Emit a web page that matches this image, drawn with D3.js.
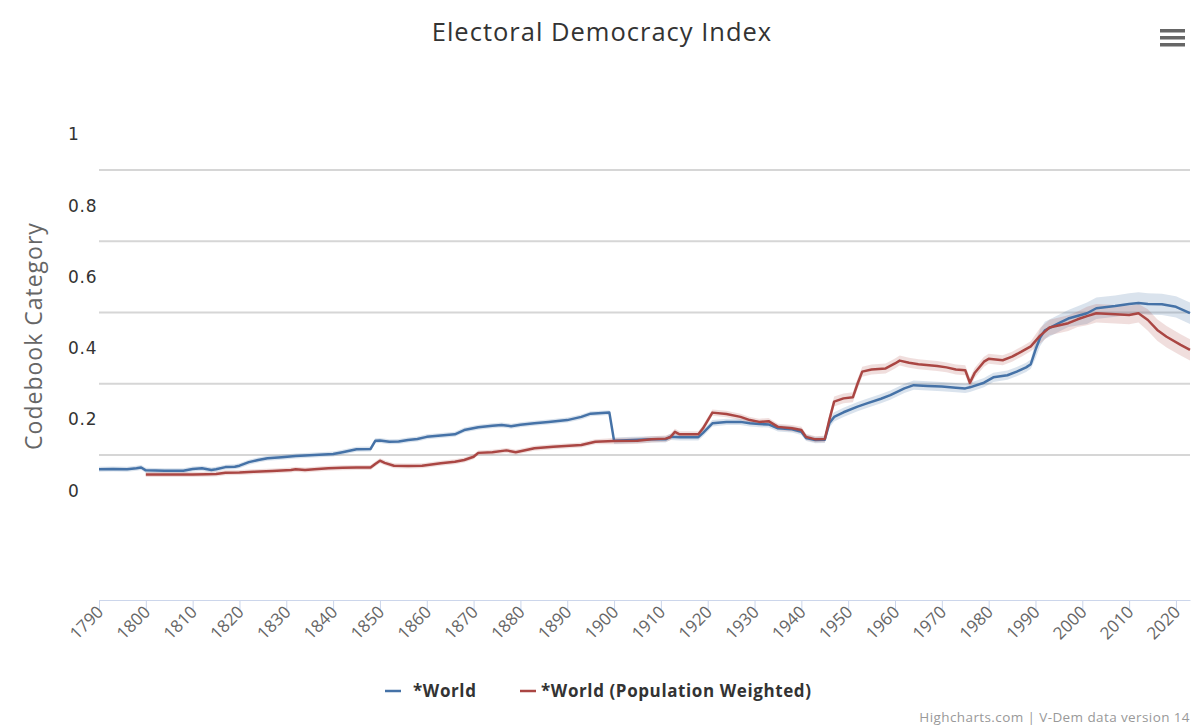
<!DOCTYPE html>
<html><head><meta charset="utf-8">
<script src="https://cdn.jsdelivr.net/npm/d3@7"></script>
<style>
html,body{margin:0;padding:0;background:#fff;}
svg{display:block;font-family:"Open Sans","Noto Sans",sans-serif;}
</style></head>
<body><svg id="c" width="1195" height="725"></svg>
<script>
// ---- data ----
const seriesNames = ["*World", "*World (Population Weighted)"];
const yTickLabels = [0, 0.2, 0.4, 0.6, 0.8, 1];
const gridValues = [0.1, 0.3, 0.5, 0.7, 0.9];
const xTickYears = [1790,1800,1810,1820,1830,1840,1850,1860,1870,1880,1890,1900,1910,1920,1930,1940,1950,1960,1970,1980,1990,2000,2010,2020];

const world = [[1790,0.060],[1793,0.061],[1796,0.060],[1798,0.063],[1799,0.065],[1800,0.057],[1804,0.056],[1808,0.056],[1810,0.061],[1812,0.063],[1814,0.058],[1815,0.060],[1817,0.066],[1819,0.067],[1820,0.070],[1822,0.080],[1824,0.086],[1826,0.091],[1829,0.094],[1832,0.097],[1836,0.100],[1840,0.103],[1842,0.108],[1845,0.116],[1848,0.117],[1849,0.140],[1850,0.141],[1852,0.137],[1854,0.138],[1856,0.142],[1858,0.145],[1860,0.151],[1863,0.155],[1866,0.158],[1868,0.170],[1871,0.178],[1874,0.182],[1876,0.184],[1878,0.181],[1880,0.185],[1883,0.189],[1886,0.193],[1890,0.198],[1893,0.207],[1895,0.216],[1899,0.219],[1900,0.140],[1904,0.142],[1908,0.144],[1911,0.144],[1912,0.151],[1914,0.150],[1918,0.150],[1919,0.162],[1921,0.189],[1924,0.193],[1927,0.193],[1929,0.189],[1931,0.187],[1933,0.186],[1935,0.175],[1938,0.172],[1940,0.165],[1941,0.148],[1943,0.142],[1945,0.143],[1946,0.190],[1947,0.207],[1949,0.220],[1952,0.236],[1954,0.245],[1957,0.258],[1959,0.268],[1962,0.287],[1964,0.296],[1967,0.294],[1970,0.292],[1973,0.289],[1975,0.287],[1976,0.290],[1979,0.303],[1981,0.318],[1984,0.324],[1986,0.334],[1988,0.346],[1989,0.355],[1990,0.395],[1991,0.430],[1992,0.450],[1995,0.470],[1997,0.483],[2001,0.498],[2003,0.512],[2007,0.518],[2010,0.524],[2012,0.527],[2014,0.524],[2017,0.523],[2020,0.516],[2023,0.498]];

const worldPop = [[1800,0.045],[1805,0.045],[1810,0.045],[1813,0.046],[1815,0.047],[1817,0.050],[1820,0.051],[1823,0.053],[1827,0.055],[1831,0.058],[1832,0.060],[1834,0.058],[1836,0.060],[1839,0.063],[1842,0.064],[1845,0.065],[1848,0.065],[1849,0.075],[1850,0.084],[1851,0.078],[1853,0.070],[1856,0.069],[1859,0.070],[1863,0.077],[1866,0.081],[1868,0.086],[1870,0.095],[1871,0.106],[1874,0.108],[1877,0.113],[1879,0.108],[1883,0.119],[1887,0.123],[1893,0.128],[1896,0.137],[1900,0.139],[1905,0.140],[1908,0.144],[1911,0.146],[1912,0.150],[1913,0.165],[1914,0.158],[1918,0.158],[1919,0.175],[1921,0.219],[1924,0.215],[1927,0.207],[1929,0.198],[1931,0.193],[1933,0.195],[1935,0.179],[1938,0.175],[1940,0.170],[1941,0.151],[1943,0.144],[1945,0.145],[1946,0.200],[1947,0.250],[1949,0.259],[1951,0.262],[1952,0.300],[1953,0.334],[1955,0.340],[1958,0.343],[1960,0.357],[1961,0.365],[1963,0.359],[1965,0.355],[1969,0.350],[1971,0.346],[1973,0.340],[1975,0.338],[1976,0.303],[1977,0.330],[1979,0.362],[1980,0.370],[1983,0.366],[1985,0.376],[1987,0.390],[1989,0.405],[1991,0.435],[1993,0.458],[1997,0.470],[1999,0.481],[2001,0.490],[2003,0.498],[2007,0.495],[2010,0.493],[2012,0.498],[2014,0.479],[2016,0.451],[2018,0.432],[2021,0.409],[2023,0.395]];

// uncertainty half-widths by era [fromYear, halfWidth]
const worldCI = [[1790,0.007],[1900,0.009],[1946,0.013],[1990,0.024],[2000,0.03]];
const worldPopCI = [[1800,0.007],[1900,0.009],[1946,0.014],[1990,0.022],[2000,0.026],[2014,0.03]];

const colors = ["#4572A7", "#AA4643"];
const bandColors = ["rgba(69,114,167,0.2)", "rgba(170,70,67,0.18)"];

// ---- layout ----
const svg = d3.select("#c");
const x = d3.scaleLinear().domain([1790, 2023]).range([99, 1190]);
const y = d3.scaleLinear().domain([-0.307, 1]).range([600, 134.4]);

function ci(table, yr){ let h = table[0][1]; for (const r of table){ if (yr >= r[0]) h = r[1]; } return h; }

// title
svg.append("text").attr("x", 602).attr("y", 41).attr("text-anchor","middle")
  .attr("font-size", 25.5).attr("letter-spacing", 1).attr("fill","#333").text("Electoral Democracy Index");

// hamburger
svg.append("g").selectAll("rect").data([0,1,2]).join("rect")
  .attr("x",1160).attr("y",d=>29+d*7).attr("width",25).attr("height",3.5).attr("fill","#666");

// gridlines
svg.append("g").selectAll("line").data(gridValues).join("line")
  .attr("x1",99).attr("x2",1190).attr("y1",d=>y(d)).attr("y2",d=>y(d))
  .attr("stroke","#d6d6d6").attr("stroke-width",2);

// y labels
svg.append("g").selectAll("text").data(yTickLabels).join("text")
  .attr("x",68).attr("y",d=>y(d)+6).attr("font-size",17).attr("letter-spacing",0.8)
  .attr("font-family","'DejaVu Sans',sans-serif").attr("fill","#333")
  .text(d=>d3.format("")(d));

// y title
svg.append("text").attr("transform","translate(42,336) rotate(-90)").attr("text-anchor","middle")
  .attr("font-size",23).attr("letter-spacing",1).attr("fill","#666").text("Codebook Category");

// x axis
const xAxis = d3.axisBottom(x).tickValues(xTickYears).tickFormat(d3.format("d")).tickSize(10).tickSizeOuter(0);
const gx = svg.append("g").attr("transform","translate(0,600)").call(xAxis);
gx.select(".domain").attr("stroke","#ccd6eb").attr("stroke-width",1);
gx.selectAll(".tick line").attr("stroke","#ccd6eb");
gx.selectAll(".tick text").attr("fill","#666").attr("font-size",17)
  .attr("font-family","'Open Sans',sans-serif")
  .attr("text-anchor","end").attr("dy",null).attr("y",0)
  .attr("transform","translate(5,13) rotate(-45)");

// bands + lines
const plot = svg.append("g");
[[world, worldCI],[worldPop, worldPopCI]].forEach(([data, table], i) => {
  const area = d3.area().x(d=>x(d[0])).y0(d=>y(d[1]-ci(table,d[0]))).y1(d=>y(d[1]+ci(table,d[0])));
  plot.append("path").datum(data).attr("d", area).attr("fill", bandColors[i]);
});
[world, worldPop].forEach((data, i) => {
  const line = d3.line().x(d=>x(d[0])).y(d=>y(d[1]));
  plot.append("path").datum(data).attr("d", line).attr("fill","none")
    .attr("stroke", colors[i]).attr("stroke-width", 2.5).attr("stroke-linejoin","round");
});

// legend
const legend = svg.append("g").attr("font-size",17).attr("font-weight","bold")
  .attr("letter-spacing",0.6).attr("fill","#333");
const legendPos = [[385, 413],[520, 541]];
seriesNames.forEach((n,i)=>{
  legend.append("line").attr("x1",legendPos[i][0]).attr("x2",legendPos[i][0]+16)
    .attr("y1",691).attr("y2",691).attr("stroke",colors[i]).attr("stroke-width",2.5);
  legend.append("text").attr("x",legendPos[i][1]).attr("y",697).text(n);
});

// credits
svg.append("text").attr("x",1190).attr("y",722).attr("text-anchor","end")
  .attr("font-size",13.5).attr("letter-spacing",0.4).attr("fill","#999").text("Highcharts.com | V-Dem data version 14");
</script></body></html>
